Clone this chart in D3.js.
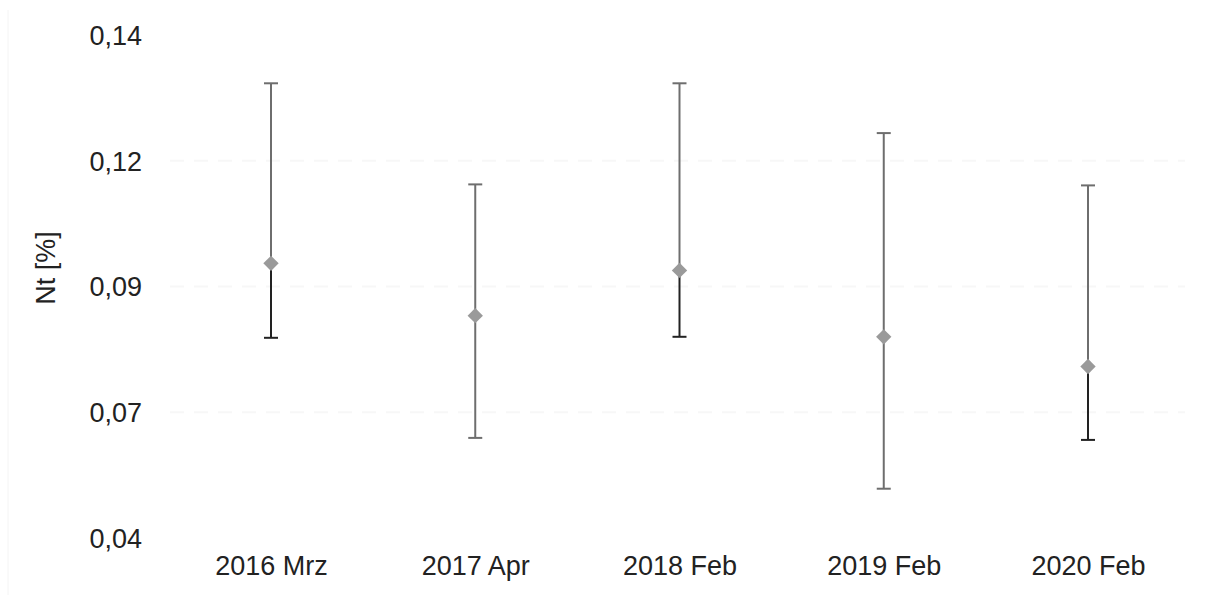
<!DOCTYPE html>
<html>
<head>
<meta charset="utf-8">
<script src="https://cdn.jsdelivr.net/npm/d3@7"></script>
<style>
  body { margin: 0; background: #fff; }
  text { font-family: "Liberation Sans", Arial, sans-serif; fill: #222; }
</style>
</head>
<body>
<div id="chart"></div>
<script>
    // data
    var categories = ["2016 Mrz", "2017 Apr", "2018 Feb", "2019 Feb", "2020 Feb"]
    var means = [0.0946, 0.0842, 0.0932, 0.0800, 0.0741]
    var upper = [0.1304, 0.1103, 0.1304, 0.1205, 0.1101]
    var lower = [0.0798, 0.0599, 0.0800, 0.0498, 0.0595]
    var yTicks = [0.04, 0.065, 0.09, 0.115, 0.14]
    var yTickLabels = ["0,04", "0,07", "0,09", "0,12", "0,14"]

    // lower whisker looks darker on some of the bars
    var lowerColors = ["#222", "#6e6e6e", "#222", "#6e6e6e", "#222"]

    var w = 1215
    var h = 602
    var gray = "#6e6e6e"
    var fs = 27

    var svg = d3.select("#chart").append("svg")
        .attr("width", w)
        .attr("height", h)

    var x = d3.scalePoint()
        .domain(categories)
        .range([271, 1088])

    var y = d3.scaleLinear()
        .domain([0.04, 0.14])
        .range([538, 35])

    // very faint grid lines
    svg.selectAll(".grid")
        .data(yTicks.slice(1, 4))
        .join("line")
        .attr("class", "grid")
        .attr("x1", 170)
        .attr("x2", 1185)
        .attr("y1", function(d){ return y(d) })
        .attr("y2", function(d){ return y(d) })
        .attr("stroke", "#f7f7f7")
        .attr("stroke-width", 2)
        .attr("stroke-dasharray", "14,10")

    // faint left border
    svg.append("line")
        .attr("x1", 8).attr("x2", 8)
        .attr("y1", 10).attr("y2", 595)
        .attr("stroke", "#f4f4f4")

    // y axis
    var yAxis = d3.axisLeft(y)
        .tickValues(yTicks)
        .tickFormat(function(d, i){ return yTickLabels[i] })
        .tickSize(0)
        .tickPadding(0)
    var gy = svg.append("g").attr("transform", "translate(142,0)").call(yAxis)
    gy.select(".domain").remove()
    gy.selectAll("text")
        .attr("font-size", fs)
        .attr("font-family", "Liberation Sans, Arial, sans-serif")
        .attr("fill", "#222")
        .attr("dy", "0.35em")

    // x axis
    var xAxis = d3.axisBottom(x).tickSize(0).tickPadding(0)
    var gx = svg.append("g").attr("transform", "translate(0,566)").call(xAxis)
    gx.select(".domain").remove()
    gx.selectAll("text")
        .attr("font-size", fs)
        .attr("font-family", "Liberation Sans, Arial, sans-serif")
        .attr("fill", "#222")
        .attr("dy", "0.35em")

    svg.append("text")
        .text("Nt [%]")
        .attr("transform", "translate(46,268) rotate(-90)")
        .attr("text-anchor", "middle")
        .attr("dominant-baseline", "central")
        .attr("font-size", fs)

    // error bars
    var bars = svg.selectAll(".bar")
        .data(categories)
        .join("g")
        .attr("class", "bar")

    bars.append("line")
        .attr("x1", function(d){ return x(d) })
        .attr("x2", function(d){ return x(d) })
        .attr("y1", function(d, i){ return y(upper[i]) })
        .attr("y2", function(d, i){ return y(means[i]) })
        .attr("stroke", gray)
        .attr("stroke-width", 2)

    bars.append("line")
        .attr("x1", function(d){ return x(d) })
        .attr("x2", function(d){ return x(d) })
        .attr("y1", function(d, i){ return y(means[i]) })
        .attr("y2", function(d, i){ return y(lower[i]) })
        .attr("stroke", function(d, i){ return lowerColors[i] })
        .attr("stroke-width", 2)

    bars.append("line")
        .attr("x1", function(d){ return x(d) - 7 })
        .attr("x2", function(d){ return x(d) + 7 })
        .attr("y1", function(d, i){ return y(upper[i]) })
        .attr("y2", function(d, i){ return y(upper[i]) })
        .attr("stroke", gray)
        .attr("stroke-width", 2)

    bars.append("line")
        .attr("x1", function(d){ return x(d) - 7 })
        .attr("x2", function(d){ return x(d) + 7 })
        .attr("y1", function(d, i){ return y(lower[i]) })
        .attr("y2", function(d, i){ return y(lower[i]) })
        .attr("stroke", function(d, i){ return lowerColors[i] })
        .attr("stroke-width", 2)

    var diamond = d3.symbol().type(d3.symbolDiamond2).size(150)
    bars.append("path")
        .attr("d", diamond)
        .attr("transform", function(d, i){ return "translate(" + x(d) + "," + y(means[i]) + ")" })
        .attr("fill", "#9a9a9a")
</script>
</body>
</html>
